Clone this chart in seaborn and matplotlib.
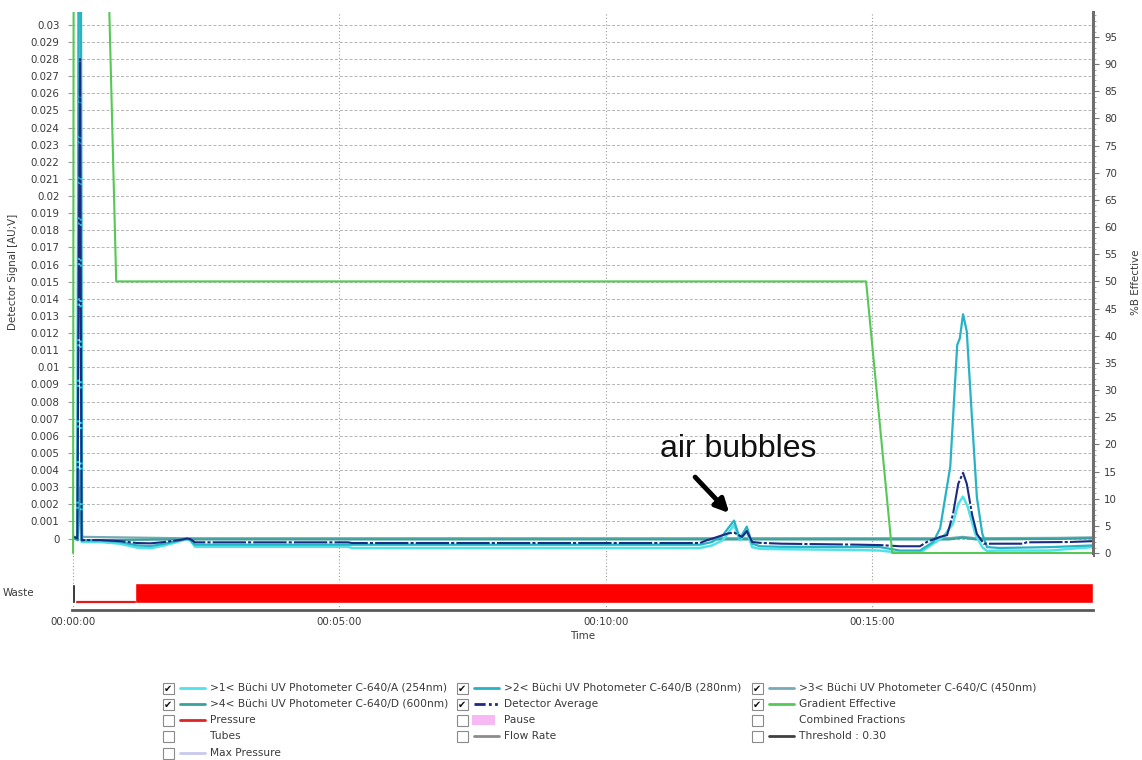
import matplotlib
matplotlib.use("Agg")
import matplotlib.pyplot as plt
import matplotlib.ticker as mticker
from matplotlib.lines import Line2D
from matplotlib.patches import Rectangle
import pandas as pd
import seaborn as sns

# ---- detector traces (time in min, signal in AU) ----
t_a = [0.02, 0.08, 0.12, 0.16, 0.20, 0.51, 0.88, 1.20, 1.45, 1.72, 2.01, 2.14, 2.20, 2.29,
       5.16, 5.24, 11.77, 12.00, 12.20, 12.41, 12.52, 12.65, 12.75, 12.90, 13.30, 14.60,
       15.15, 15.53, 15.90, 16.15, 16.33, 16.52, 16.62, 16.71, 16.80, 16.94, 17.07, 17.16,
       17.40, 18.34, 18.72, 19.15]
uv_a = [0.0001, 0.0, 0.055, -0.0002, -0.0002, -0.0002, -0.0003, -0.00053, -0.00057, -0.0004,
        -0.00015, -0.00003, -0.0001, -0.00048, -0.00048, -0.00055, -0.00055, -0.0004, -0.0001,
        0.0008, -0.0001, 0.0004, -0.0005, -0.0006, -0.00062, -0.00066, -0.0007, -0.00083,
        -0.00083, -0.0003, 0.00008, 0.00086, 0.00203, 0.00245, 0.00183, 0.00027, -0.0005,
        -0.00072, -0.0007, -0.0007, -0.0006, -0.0005]

t_b = [0.02, 0.08, 0.13, 0.17, 0.20, 0.51, 0.88, 1.20, 1.45, 1.72, 2.01, 2.14, 2.20, 2.29,
       11.77, 12.00, 12.20, 12.41, 12.52, 12.65, 12.75, 12.90, 13.30, 15.15, 15.53, 15.90,
       16.15, 16.28, 16.47, 16.60, 16.65, 16.71, 16.78, 16.88, 16.97, 17.07, 17.16, 17.40,
       18.34, 19.15]
uv_b = [0.0001, 0.0, 0.06, -0.0001, -0.0001, -0.0001, -0.0002, -0.0004, -0.00044, -0.0003,
        -0.0001, 0.0, -0.0001, -0.00036, -0.00036, -0.0002, 0.0002, 0.00105, 0.0, 0.0007,
        -0.0003, -0.00045, -0.00048, -0.0005, -0.0007, -0.0007, -0.0002, 0.0006, 0.0042,
        0.0113, 0.0117, 0.0131, 0.0121, 0.0069, 0.0024, 0.0003, -0.0005, -0.00055, -0.0005,
        -0.0004]

t_c = [0.02, 0.09, 0.13, 0.17, 2.00, 16.45, 16.70, 16.95, 18.50, 19.15]
uv_c = [0.0001, 0.0, 0.004, 0.0001, 0.00002, 0.00002, 0.0001, 0.00002, 0.00004, 0.00007]

t_d = [0.02, 0.09, 0.13, 0.17, 2.00, 16.45, 16.70, 16.95, 18.50, 19.15]
uv_d = [0.0, -0.0001, 0.003, -0.0001, -0.00005, -0.00005, 0.00005, -0.00005, -0.00002, 0.00002]

t_avg = [0.02, 0.08, 0.13, 0.16, 0.20, 0.51, 0.88, 1.20, 1.45, 1.72, 2.01, 2.14, 2.20, 2.29,
         5.16, 5.24, 11.77, 11.90, 12.30, 12.41, 12.56, 12.65, 12.75, 12.90, 13.30, 14.60,
         15.15, 15.53, 15.90, 16.03, 16.28, 16.41, 16.52, 16.62, 16.71, 16.78, 16.88, 16.97,
         17.10, 17.84, 17.90, 18.72, 19.15]
uv_avg = [0.0001, 0.0, 0.028, -0.0001, -0.00009, -0.00009, -0.00015, -0.00026, -0.00028,
          -0.0002, -0.00008, 0.0, -0.00003, -0.00022, -0.00022, -0.00026, -0.00026, -0.0001,
          0.0003, 0.00035, 0.0001, 0.00044, -0.0002, -0.00025, -0.0003, -0.00035, -0.00038,
          -0.00045, -0.00045, -0.0002, 0.0001, 0.0002, 0.0014, 0.0032, 0.00384, 0.0032, 0.0014,
          0.00027, -0.0003, -0.0003, -0.00022, -0.0002, -0.00015]

# ---- gradient (%B) ----
t_grad = [0.0, 0.01, 0.68, 0.81, 14.89, 15.38, 19.15]
pct_b = [0, 100, 100, 50, 50, 0, 0]

# ---- fraction valve: waste line until collection starts ----
valve_times = [0.0, 1.16, 19.15]

time_ticks = [0, 5, 10, 15]
time_labels = ["00:00:00", "00:05:00", "00:10:00", "00:15:00"]

series_labels = [">1< Büchi UV Photometer C-640/A (254nm)",
                 ">2< Büchi UV Photometer C-640/B (280nm)",
                 ">3< Büchi UV Photometer C-640/C (450nm)",
                 ">4< Büchi UV Photometer C-640/D (600nm)",
                 "Detector Average", "Gradient Effective",
                 "Pressure", "Pause", "Combined Fractions",
                 "Tubes", "Flow Rate", "Threshold : 0.30",
                 "Max Pressure"]
series_checked = [True, True, True, True, True, True,
                  False, False, False, False, False, False, False]

C_A = "#4fe2e8"
C_B = "#27b3c4"
C_C = "#76aab4"
C_D = "#3aa29a"
C_AVG = "#1c2a82"
C_GRAD = "#55c855"
AVG_DASH_PLOT = (0, (16, 1, 1.5, 1))
AVG_DASH = (0, (4, 1.2, 1, 1.2, 1, 1.2))
entry_style = [("line", C_A), ("line", C_B), ("line", C_C), ("line", C_D),
               ("dash", C_AVG), ("line", C_GRAD), ("line", "#e02424"),
               ("patch", "#f7b9f4"), (None, None), (None, None),
               ("line", "#8c8c8c"), ("line", "#404040"), ("line", "#c9c9ee")]

sns.set_style("white")
plt.rcParams["font.family"] = ["DejaVu Sans"]
TXT = "#3a3a3a"
FS = 7.4

W, H = 1142, 760
fig = plt.figure(figsize=(W / 100, H / 100), dpi=100)


def fx(px):
    return px / W


def fy(py):
    return 1 - py / H


ax = fig.add_axes([fx(72), fy(555), fx(1093) - fx(72), fy(12) - fy(555)])
ax2 = ax.twinx()
axw = fig.add_axes([fx(72), fy(610), fx(1093) - fx(72), fy(555) - fy(610)])

for t, v, c, lw in [(t_c, uv_c, C_C, 1.6), (t_d, uv_d, C_D, 1.6),
                    (t_a, uv_a, C_A, 1.8), (t_b, uv_b, C_B, 1.6)]:
    sns.lineplot(x=t, y=v, ax=ax, color=c, lw=lw, estimator=None, sort=False)
sns.lineplot(x=t_avg, y=uv_avg, ax=ax, color=C_AVG, lw=1.5, estimator=None, sort=False)
ax.lines[-1].set_linestyle(AVG_DASH_PLOT)

sns.lineplot(x=t_grad, y=pct_b, ax=ax2, color=C_GRAD, lw=1.5, estimator=None, sort=False)

xmin, xmax = -0.02, 19.15
ax.set_xlim(xmin, xmax)
ax.set_ylim(-0.00096, 0.03075)
ax2.set_ylim(-0.37, 99.6)

# left axis
ax.yaxis.set_major_locator(mticker.MultipleLocator(0.001))


def sig_fmt(v, _):
    s = f"{v:.3f}".rstrip("0").rstrip(".")
    return "0" if s in ("-0", "") else s


ax.yaxis.set_major_formatter(mticker.FuncFormatter(sig_fmt))
ax.tick_params(axis="y", labelsize=FS, labelcolor=TXT, length=3, color="#999999",
               width=0.8, pad=6, left=True)
ax.set_xticks(time_ticks)
ax.tick_params(axis="x", length=0, labelbottom=False)
ax.grid(True, axis="y", ls=(0, (3, 2)), color="#b4b4b4", lw=0.7)
ax.grid(True, axis="x", ls=(0, (1, 2)), color="#9a9a9a", lw=0.8)
for s in ax.spines.values():
    s.set_visible(False)
ax.set_xlabel("")
ax.set_ylabel("Detector Signal [AU;V]", fontsize=FS, color=TXT)
ax.yaxis.set_label_coords((18 - 72) / 1021, (555 - 272) / 543)

# right axis
ax2.yaxis.set_major_locator(mticker.MultipleLocator(5))
ax2.yaxis.set_minor_locator(mticker.MultipleLocator(1))
ax2.yaxis.set_major_formatter(mticker.FormatStrFormatter("%d"))
ax2.tick_params(axis="y", which="major", labelsize=FS, labelcolor=TXT, length=4,
                color="#777777", width=0.8, pad=4)
ax2.tick_params(axis="y", which="minor", length=2, color="#999999", width=0.6)
for name, s in ax2.spines.items():
    s.set_visible(name == "right")
ax2.spines["right"].set_color("#6e6e6e")
ax2.spines["right"].set_linewidth(2.2)
ax2.set_ylabel("%B Effective", fontsize=FS, color=TXT)
ax2.yaxis.set_label_coords((1131 - 72) / 1021, (555 - 282) / 543)
ax2.grid(False)

# fraction valve strip
axw.set_xlim(xmin, xmax)
axw.set_ylim(0, 1)
axw.grid(True, axis="x", ls=(0, (1, 2)), color="#9a9a9a", lw=0.8, zorder=0)
axw.barh(y=0.309, width=valve_times[2] - valve_times[1], left=valve_times[1],
         height=0.364, color="#ff0000", zorder=3)
axw.plot(valve_times[:2], [0.145, 0.145], color="#e81818", lw=1.6, zorder=3)
axw.barh(y=0.30, width=0.05, left=valve_times[0] - 0.02, height=0.35, color="#111111",
         zorder=4)
for name, s in axw.spines.items():
    s.set_visible(name == "bottom")
axw.spines["bottom"].set_color("#5a5a5a")
axw.spines["bottom"].set_linewidth(2)
axw.set_yticks([])
axw.set_xticks(time_ticks)
axw.set_xticklabels(time_labels)
axw.xaxis.set_minor_locator(mticker.MultipleLocator(1))
axw.tick_params(axis="x", which="major", labelsize=FS, labelcolor=TXT, length=3,
                color="#777777", width=0.8, pad=2)
axw.tick_params(axis="x", which="minor", length=3, color="#999999", width=0.6)
axw.set_xlabel("Time", fontsize=FS, color=TXT, labelpad=3)
fig.text(fx(3), fy(593), "Waste", fontsize=FS, color=TXT, va="center", ha="left")

# air bubbles annotation
ax.text(11.02, 0.00476, "air bubbles", fontsize=23, family=["Liberation Sans"],
        color="#111111", va="baseline", ha="left")
ax.annotate("", xy=(12.32, 0.00149), xytext=(11.68, 0.00359),
            arrowprops=dict(arrowstyle="-|>", lw=3.5, color="black", mutation_scale=20,
                            shrinkA=0, shrinkB=0))

# legend panel with check boxes
col_x = [168, 462, 757]
row_y = [688, 704, 720, 736, 753]
for i, label in enumerate(series_labels):
    cx, ry = col_x[i % 3], row_y[i // 3]
    fig.patches.append(Rectangle((fx(cx - 5.5), fy(ry + 5.5)), fx(11), 11 / H,
                                 transform=fig.transFigure, fill=True, facecolor="white",
                                 edgecolor="#8a8a8a", lw=0.8))
    if series_checked[i]:
        fig.text(fx(cx), fy(ry + 0.5), "\u2714", fontsize=7, color="#111111",
                 ha="center", va="center")
    kind, col = entry_style[i]
    if kind in ("line", "dash"):
        ls = AVG_DASH if kind == "dash" else "-"
        fig.lines.append(Line2D([fx(cx + 12), fx(cx + 37)], [fy(ry), fy(ry)],
                                transform=fig.transFigure, color=col, lw=2, ls=ls))
    elif kind == "patch":
        fig.patches.append(Rectangle((fx(cx + 10), fy(ry + 5)), fx(23), 10 / H,
                                     transform=fig.transFigure, color=col, lw=0))
    fig.text(fx(cx + 42), fy(ry), label, fontsize=7.65, color=TXT, ha="left", va="center")

fig.savefig("out.png", dpi=100)
